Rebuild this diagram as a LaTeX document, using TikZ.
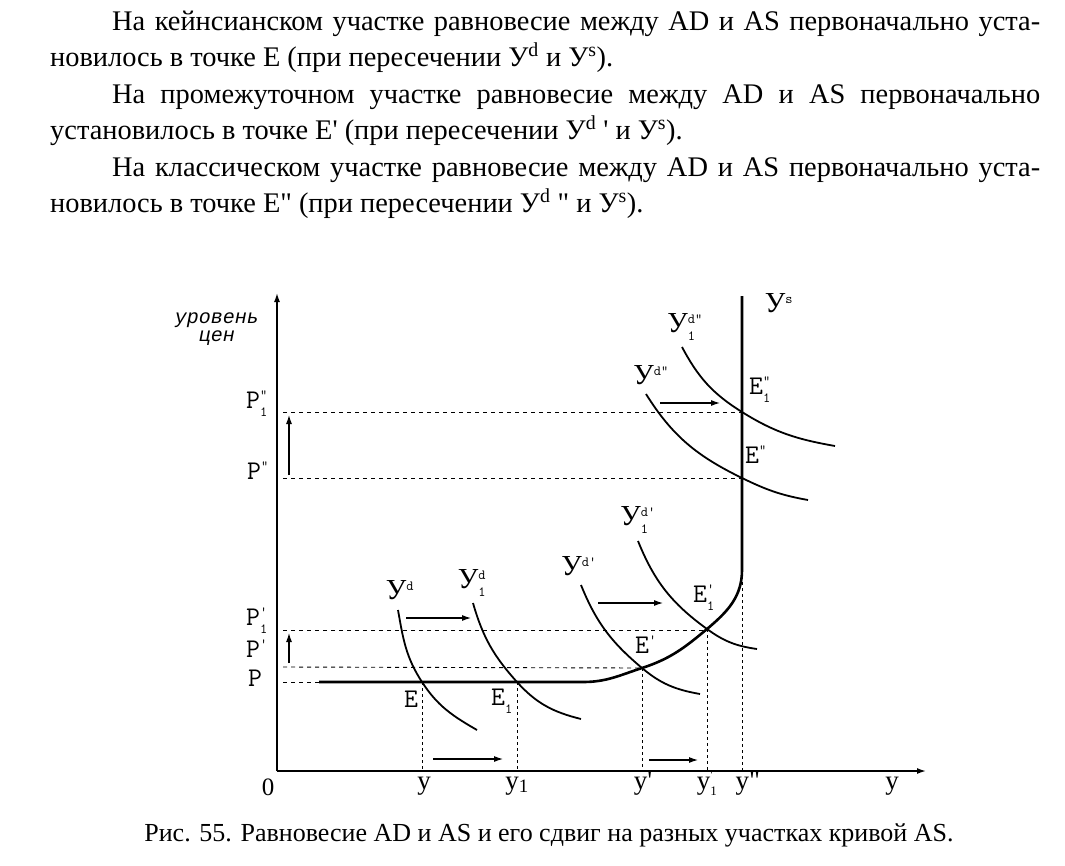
\documentclass[tikz,border=0pt]{standalone}
\usepackage{fontspec}
\usetikzlibrary{arrows.meta}
\newfontfamily\txtfont{Liberation Serif}[Ligatures=TeXOff]
\newfontfamily\lblfont{Liberation Mono}[Ligatures=TeXOff]
\newcommand\lab[3]{#1$^{\hbox{\ttfamily\fontsize{14}{14}\selectfont #2}}_{\lower2pt\hbox{\ttfamily\fontsize{14}{14}\selectfont #3}}$}
\tikzset{
  body/.style={font=\txtfont\fontsize{28.4}{28.4}\selectfont, inner sep=0pt, anchor=base west},
  elab/.style={font=\ttfamily\fontsize{27}{27}\selectfont, inner sep=0pt},
  ylab/.style={font=\txtfont\fontsize{29}{29}\selectfont, inner sep=0pt},
  xlab/.style={font=\txtfont\fontsize{27}{27}\selectfont, inner sep=0pt, anchor=base},
  axis/.style={line width=1.5pt, -{Latex[length=9pt,width=6pt]}},
  curve/.style={line width=1.8pt},
  asline/.style={line width=2.6pt},
  hdash/.style={line width=0.9pt, dash pattern=on 4pt off 4pt},
  vdot/.style={line width=0.9pt, dash pattern=on 3pt off 3pt},
  shiftarr/.style={line width=1.1pt, -{Latex[length=9pt,width=6pt]}}
}
\begin{document}
\begin{tikzpicture}[x=1pt,y=-1pt]
\useasboundingbox (0,0) rectangle (1065,865);
\fill[white] (0,0) rectangle (1065,865);
% text
\node[body] (t1) at (112,30) {\makebox[928pt][s]{На кейнсианском участке равновесие между AD и AS первоначально уста-}};
\node[body] (t2) at (50,66) {новилось в точке Е (при пересечении У\textsuperscript{d} и У\textsuperscript{s}).};
\node[body] (t3) at (112,103) {\makebox[928pt][s]{На промежуточном участке равновесие между AD и AS первоначально}};
\node[body] (t4) at (50,139) {установилось в точке Е' (при пересечении У\textsuperscript{d} ' и У\textsuperscript{s}).};
\node[body] (t5) at (112,176) {\makebox[928pt][s]{На классическом участке равновесие между AD и AS первоначально уста-}};
\node[body] (t6) at (50,212) {новилось в точке Е" (при пересечении У\textsuperscript{d} " и У\textsuperscript{s}).};
\node[font=\txtfont\fontsize{26}{26}\selectfont, inner sep=0pt] (cap) at (549,835) {Рис. 55. Равновесие AD и AS и его сдвиг на разных участках кривой AS.};
% axes
\coordinate (O) at (277,771);
\coordinate (Ytop) at (277,293);
\coordinate (Xend) at (926,771);
\draw[axis] (O) -- (Ytop);
\draw[axis] (O) -- (Xend);
\node[font=\lblfont\itshape\fontsize{20}{20}\selectfont, inner sep=0pt] (yl1) at (217,320) {уровень};
\node[font=\lblfont\itshape\fontsize{20}{20}\selectfont, inner sep=0pt] (yl2) at (217,338) {цен};
\node[font=\txtfont\fontsize{25}{25}\selectfont, inner sep=0pt, anchor=base] (zero) at (268,795) {0};
% key points
\coordinate (E) at (422,682);
\coordinate (E1) at (517,682);
\coordinate (Ep) at (642,668);
\coordinate (Ep1) at (707,629);
\coordinate (Epp) at (742,478);
\coordinate (Epp1) at (742,412);
\coordinate (Kink) at (742,570);
\coordinate (ASstart) at (319,682);
\coordinate (ASbend) at (583,682);
\coordinate (AStop) at (742,296);
% dashed price lines
\coordinate (hP) at (283,682);
\coordinate (hPp) at (283,667);
\coordinate (hPp1) at (283,630);
\coordinate (hPpp) at (283,478);
\coordinate (hPpp1) at (283,412);
\draw[hdash] (hP) -- (ASstart);
\draw[hdash] (hPp) -- (Ep);
\draw[hdash] (hPp1) -- (Ep1 |- hPp1);
\draw[hdash] (hPpp) -- (Epp);
\draw[hdash] (hPpp1) -- (Epp1);
% dotted quantity lines
\draw[vdot] (E) -- (E |- O);
\draw[vdot] (E1) -- (E1 |- O);
\draw[vdot] (Ep) -- (Ep |- O);
\draw[vdot] (Ep1) -- (Ep1 |- O);
\draw[vdot] (Kink) -- (Kink |- O);
% AS curve
\draw[asline] (ASstart) -- (ASbend) to[out=0,in=-162] (Ep) to[out=18,in=-140] (Ep1) to[out=40,in=-90] (Kink) -- (AStop);
% AD curves
\coordinate (a1s) at (398,610); \coordinate (a1e) at (477,730);
\coordinate (a2s) at (473,603); \coordinate (a2e) at (581,719);
\coordinate (a3s) at (581,585); \coordinate (a3e) at (700,694);
\coordinate (a4s) at (638,541); \coordinate (a4e) at (757,649);
\coordinate (a5s) at (646,394); \coordinate (a5e) at (808,500);
\coordinate (a6s) at (682,347); \coordinate (a6e) at (835,446);
\draw[curve] (a1s) to[out=-80,in=123] (E) to[out=-57,in=150] (a1e);
\draw[curve] (a2s) to[out=-74,in=132] (E1) to[out=-48,in=166] (a2e);
\draw[curve] (a3s) to[out=-68,in=140] (Ep) to[out=-40,in=170] (a3e);
\draw[curve] (a4s) to[out=-68,in=144] (Ep1) to[out=-36,in=172] (a4e);
\draw[curve] (a5s) to[out=-58,in=154] (Epp) to[out=-26,in=170] (a5e);
\draw[curve] (a6s) to[out=-62,in=148] (Epp1) to[out=-32,in=170] (a6e);
% shift arrows
\coordinate (s1a) at (406,618); \coordinate (s1b) at (471,618);
\coordinate (s2a) at (598,603); \coordinate (s2b) at (663,603);
\coordinate (s3a) at (660,403); \coordinate (s3b) at (720,403);
\coordinate (s4a) at (433,759); \coordinate (s4b) at (503,759);
\coordinate (s5a) at (649,760); \coordinate (s5b) at (698,760);
\coordinate (u1a) at (289,475); \coordinate (u1b) at (289,415);
\coordinate (u2a) at (289,663); \coordinate (u2b) at (289,633);
\foreach \a/\b in {s1a/s1b,s2a/s2b,s3a/s3b,s4a/s4b,s5a/s5b,u1a/u1b,u2a/u2b}
  \draw[shiftarr] (\a) -- (\b);
% price labels
\node[elab] (lPpp1) at (257,404) {\lab{P}{"}{1}};
\node[elab] (lPpp) at (258,475) {\lab{P}{"}{}};
\node[elab] (lPp1) at (257,621) {\lab{P}{'}{1}};
\node[elab] (lPp) at (257,653) {\lab{P}{'}{}};
\node[elab] (lP) at (255,678) {P};
% point labels
\node[elab] (lE) at (411,699) {E};
\node[elab] (lE1) at (502,701) {\lab{E}{}{1}};
\node[elab] (lEp) at (646,649) {\lab{E}{'}{}};
\node[elab] (lEp1) at (704,598) {\lab{E}{'}{1}};
\node[elab] (lEpp) at (756,459) {\lab{E}{"}{}};
\node[elab] (lEpp1) at (760,390) {\lab{E}{"}{1}};
% curve labels
\node[ylab] (lYd) at (400,594) {\lab{У}{d}{}};
\node[ylab] (lY1d) at (472,583) {\lab{У}{d}{1}};
\node[ylab] (lYdp) at (579,570) {\lab{У}{d'}{}};
\node[ylab] (lY1dp) at (638,520) {\lab{У}{d'}{1}};
\node[ylab] (lYdpp) at (651,379) {\lab{У}{d"}{}};
\node[ylab] (lY1dpp) at (685,327) {\lab{У}{d"}{1}};
\node[ylab] (lYs) at (779,307) {\lab{У}{s}{}};
% quantity labels
\node[xlab] (qy) at (424,789) {у};
\node[xlab] (qy1) at (517,789) {у\textsubscript{1}};
\node[xlab] (qyp) at (643,789) {у'};
\node[xlab] (qyp1) at (707,789) {у$^{\hbox{\fontsize{13}{13}\selectfont '}}_{\hbox{\fontsize{13}{13}\selectfont 1}}$};
\node[xlab] (qypp) at (748,789) {у"};
\node[xlab] (qY) at (892,789) {у};
\end{tikzpicture}
\end{document}
